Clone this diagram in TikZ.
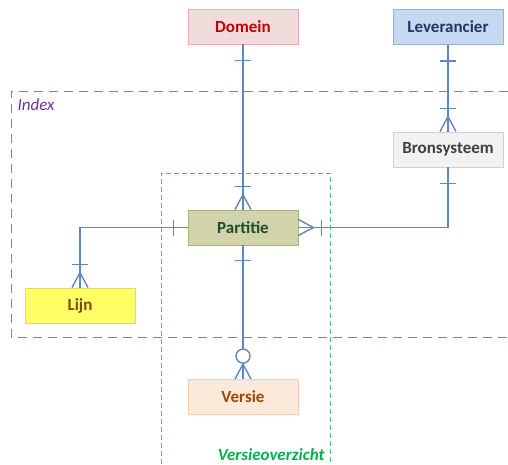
\documentclass[tikz,border=0pt]{standalone}
\usepackage{fontspec}
\setmainfont{Carlito}
\usetikzlibrary{calc}
\definecolor{lnc}{HTML}{6088C0}
\definecolor{idxc}{HTML}{9073BA}
\definecolor{idxlabc}{HTML}{7030A0}
\definecolor{verc}{HTML}{4CC07A}
\definecolor{verlabc}{HTML}{00B050}
\definecolor{domf}{HTML}{F2DCDB}\definecolor{domd}{HTML}{EFA9A9}\definecolor{domt}{HTML}{C00000}
\definecolor{levf}{HTML}{C6D9F1}\definecolor{levd}{HTML}{95B3D7}\definecolor{levt}{HTML}{1F3864}
\definecolor{bronf}{HTML}{F2F2F2}\definecolor{brond}{HTML}{D0D0D0}\definecolor{bront}{HTML}{404040}
\definecolor{partf}{HTML}{D1D3AB}\definecolor{partd}{HTML}{A9B07E}\definecolor{partt}{HTML}{1E4D2B}
\definecolor{lijnf}{HTML}{FFFF66}\definecolor{lijnd}{HTML}{E4D66A}\definecolor{lijnt}{HTML}{7F4A10}
\definecolor{verf}{HTML}{FDE9D9}\definecolor{verd}{HTML}{F7CDB0}\definecolor{vert}{HTML}{984807}
\begin{document}
\begin{tikzpicture}[x=1pt,y=-1pt,
  ent/.style={draw, line width=0.8pt, minimum width=110pt, minimum height=35pt, inner sep=0pt, font=\fontsize{17}{19}\selectfont\bfseries},
  conn/.style={draw=lnc, line width=1.4pt},
  mk/.style={draw=lnc, line width=1.4pt},
  grp/.style={line width=1pt}]
\useasboundingbox (0,0) rectangle (508,464);
% group boxes
\draw[grp, idxc, dash pattern=on 9pt off 6pt] (508,91) -- (11,91) -- (11,337) -- (508,337);
\draw[grp, verc, dash pattern=on 5pt off 3pt] (161,464) -- (161,173) -- (330,173) -- (330,464);
\node[anchor=base west, text=idxlabc, font=\fontsize{17}{19}\selectfont\itshape] (idxlab) at (14,110) {Index};
\node[anchor=base east, text=verlabc, font=\fontsize{17}{19}\selectfont\bfseries\itshape] (verlab) at (328,460) {Versieoverzicht};
% entities
\node[ent, fill=domf, draw=domd, text=domt] (dom) at (243,26.5) {Domein};
\node[ent, fill=levf, draw=levd, text=levt] (lev) at (448,27) {Leverancier};
\node[ent, fill=bronf, draw=brond, text=bront] (bron) at (448,149.5) {Bronsysteem};
\node[ent, fill=partf, draw=partd, text=partt] (part) at (243,227.5) {Partitie};
\node[ent, fill=lijnf, draw=lijnd, text=lijnt] (lijn) at (80,305.5) {Lijn};
\node[ent, fill=verf, draw=verd, text=vert] (ver) at (243,397) {Versie};
% connectors
\draw[conn] (dom.south) -- (part.north);
\draw[conn] (lev.south) -- (bron.north);
\draw[conn] (bron.south) |- (part.east);
\draw[conn] (part.west) -| (lijn.north);
\coordinate (vc) at ($(ver.north)+(0,-23)$);
\draw[conn] (part.south) -- ($(vc)+(0,-7)$);
\draw[mk] (vc) circle (7);
% marks: Domein - Partitie
\draw[mk] ($(dom.south)+(-8,16)$) -- ($(dom.south)+(8,16)$);
\draw[mk] ($(part.north)+(-8,-23)$) -- ($(part.north)+(8,-23)$);
\draw[mk] ($(part.north)+(-8,0)$) -- ($(part.north)+(0,-15)$) -- ($(part.north)+(8,0)$);
% Leverancier - Bronsysteem
\draw[mk] ($(lev.south)+(-8,16)$) -- ($(lev.south)+(8,16)$);
\draw[mk] ($(bron.north)+(-8,-23)$) -- ($(bron.north)+(8,-23)$);
\draw[mk] ($(bron.north)+(-8,0)$) -- ($(bron.north)+(0,-15)$) -- ($(bron.north)+(8,0)$);
% Bronsysteem - Partitie
\draw[mk] ($(bron.south)+(-8,16)$) -- ($(bron.south)+(8,16)$);
\draw[mk] ($(part.east)+(23,-8)$) -- ($(part.east)+(23,8)$);
\draw[mk] ($(part.east)+(0,-8)$) -- ($(part.east)+(15,0)$) -- ($(part.east)+(0,8)$);
% Partitie - Lijn
\draw[mk] ($(part.west)+(-14,-8)$) -- ($(part.west)+(-14,8)$);
\draw[mk] ($(lijn.north)+(-8,-23)$) -- ($(lijn.north)+(8,-23)$);
\draw[mk] ($(lijn.north)+(-8,0)$) -- ($(lijn.north)+(0,-15)$) -- ($(lijn.north)+(8,0)$);
% Partitie - Versie
\draw[mk] ($(part.south)+(-8,15)$) -- ($(part.south)+(8,15)$);
\draw[mk] ($(ver.north)+(-8,0)$) -- ($(ver.north)+(0,-15)$) -- ($(ver.north)+(8,0)$);
\draw[mk] ($(ver.north)+(0,-16)$) -- (ver.north);
\end{tikzpicture}
\end{document}
